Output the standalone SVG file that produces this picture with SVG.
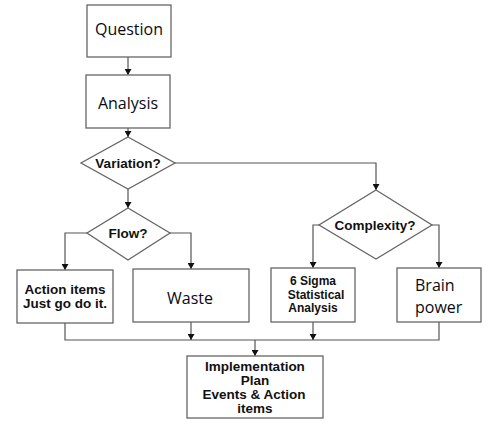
<svg xmlns="http://www.w3.org/2000/svg" width="500" height="424" viewBox="0 0 500 424">
<defs>
<marker id="ah" markerWidth="7" markerHeight="7" refX="6" refY="3.5" orient="auto" markerUnits="userSpaceOnUse">
<path d="M0,0 L6,3.5 L0,7 Z" fill="#111"/>
</marker>
</defs>
<style>
.box{fill:#fff;stroke:#666;stroke-width:1.3}
.cal{font-family:"Open Sans","Liberation Sans",sans-serif;font-size:16px;fill:#0a0a14}
.b{font-family:"Liberation Sans",Arial,sans-serif;font-weight:bold;font-size:13.5px;fill:#111}
.s{font-size:12px}
.c{fill:none;stroke:#555;stroke-width:1.2}
.a{marker-end:url(#ah)}
</style>
<rect width="500" height="424" fill="#fff"/>
<g id="connectors">
<line class="c a" x1="128" y1="57" x2="128" y2="75"/>
<line class="c a" x1="128" y1="128" x2="128" y2="137"/>
<line class="c a" x1="128" y1="189" x2="128" y2="208"/>
<polyline class="c a" points="175,163 376,163 376,190"/>
<polyline class="c a" points="87,233 65,233 65,270"/>
<polyline class="c a" points="170,233 191,233 191,269"/>
<polyline class="c a" points="319,225 313,225 313,268"/>
<polyline class="c a" points="432,225 439,225 439,268"/>
<polyline class="c" points="65,323 65,340 439,340 439,322"/>
<line class="c a" x1="191" y1="322" x2="191" y2="340"/>
<line class="c a" x1="313" y1="322" x2="313" y2="340"/>
<line class="c a" x1="255" y1="340" x2="255" y2="356"/>
</g>
<g id="question">
<rect class="box" x="87" y="5" width="84" height="52"/>
<text class="cal" x="129" y="35" text-anchor="middle">Question</text>
</g>
<g id="analysis">
<rect class="box" x="86" y="75" width="84" height="53"/>
<text class="cal" x="128" y="109" text-anchor="middle">Analysis</text>
</g>
<g id="variation">
<polygon class="box" points="128,137 175,163 128,189 81,163"/>
<text class="b" x="128" y="168" text-anchor="middle">Variation?</text>
</g>
<g id="flow">
<polygon class="box" points="128,208 170,233 128,260 87,233"/>
<text class="b" x="128" y="238" text-anchor="middle">Flow?</text>
</g>
<g id="complexity">
<polygon class="box" points="376,190 432,225 376,259 319,225"/>
<text class="b" x="375" y="230" text-anchor="middle">Complexity?</text>
</g>
<g id="action">
<rect class="box" x="17" y="270" width="96" height="53"/>
<text class="b" x="65" y="294" text-anchor="middle">Action items</text>
<text class="b" x="65" y="308" text-anchor="middle">Just go do it.</text>
</g>
<g id="waste">
<rect class="box" x="133" y="269" width="116" height="53"/>
<text class="cal" x="190" y="304" text-anchor="middle">Waste</text>
</g>
<g id="sigma">
<rect class="box" x="271" y="268" width="84" height="54"/>
<text class="b s" x="313" y="285" text-anchor="middle">6 Sigma</text>
<text class="b s" x="316" y="299" text-anchor="middle">Statistical</text>
<text class="b s" x="313" y="312" text-anchor="middle">Analysis</text>
</g>
<g id="brain">
<rect class="box" x="397" y="268" width="84" height="54"/>
<text class="cal" x="415" y="291">Brain</text>
<text class="cal" x="415" y="313">power</text>
</g>
<g id="implementation">
<rect class="box" x="187" y="356" width="136" height="62"/>
<text class="b" x="255" y="371" text-anchor="middle">Implementation</text>
<text class="b" x="255" y="385" text-anchor="middle">Plan</text>
<text class="b" x="254" y="399" text-anchor="middle">Events &amp; Action</text>
<text class="b" x="255" y="413" text-anchor="middle">items</text>
</g>
</svg>
